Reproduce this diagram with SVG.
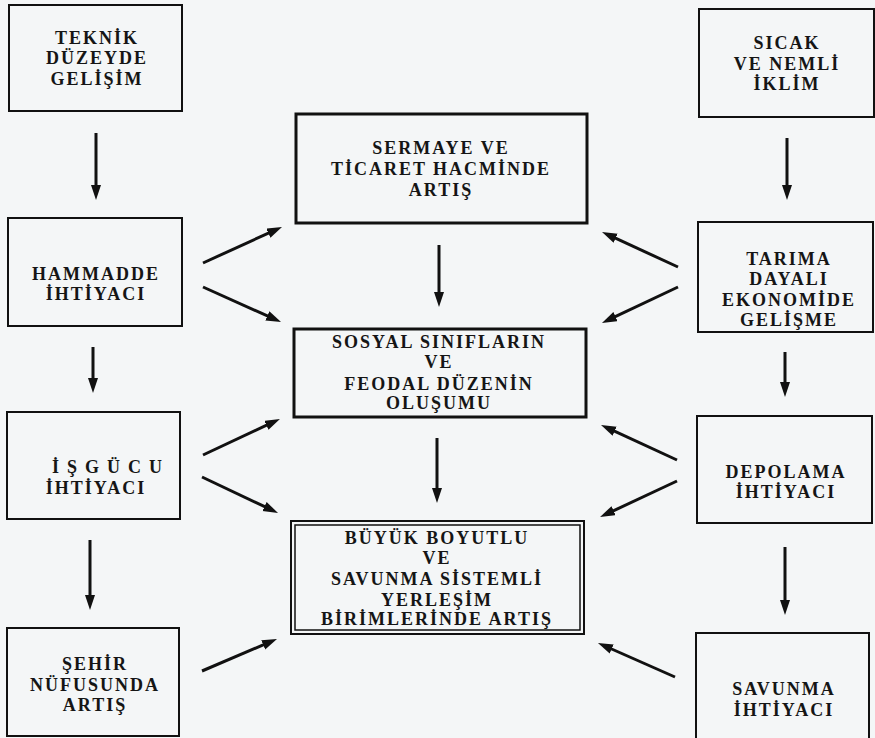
<svg xmlns="http://www.w3.org/2000/svg" width="875" height="738" viewBox="0 0 875 738">
<defs>
<style>
.box{fill:none;stroke:#111;stroke-width:2}
.thick{fill:none;stroke:#111;stroke-width:3}
.t{font-family:"Liberation Serif","Times New Roman",serif;font-weight:bold;font-size:18px;letter-spacing:2px;fill:#151515;text-anchor:middle}
.c{stroke:#111;stroke-width:3;fill:none;marker-end:url(#ah)}
</style>
<marker id="ah" markerUnits="userSpaceOnUse" markerWidth="16" markerHeight="12" refX="5" refY="5" orient="auto">
<path d="M0,0 L15,5 L0,10 z" fill="#111"/>
</marker>
</defs>
<rect width="875" height="738" fill="#f4f6f7"/>

<g id="teknik">
<rect class="box" x="9" y="5" width="173" height="106"/>
<text class="t" x="97" y="44">TEKNİK</text>
<text class="t" x="97" y="64">DÜZEYDE</text>
<text class="t" x="97" y="85">GELİŞİM</text>
</g>
<g id="hammadde">
<rect class="box" x="8" y="218" width="174" height="108"/>
<text class="t" x="96" y="280">HAMMADDE</text>
<text class="t" x="96" y="300">İHTİYACI</text>
</g>
<g id="isgucu">
<rect class="box" x="7" y="412" width="173" height="107"/>
<text class="t" x="111" y="473" style="letter-spacing:8px">İŞGÜCU</text>
<text class="t" x="96" y="494">İHTİYACI</text>
</g>
<g id="sehir">
<rect class="box" x="7" y="628" width="172" height="108"/>
<text class="t" x="95" y="670">ŞEHİR</text>
<text class="t" x="95" y="691">NÜFUSUNDA</text>
<text class="t" x="95" y="711">ARTIŞ</text>
</g>

<g id="sermaye">
<rect class="thick" x="296" y="114" width="291" height="109"/>
<text class="t" x="441" y="154">SERMAYE VE</text>
<text class="t" x="441" y="175">TİCARET HACMİNDE</text>
<text class="t" x="441" y="196">ARTIŞ</text>
</g>
<g id="sosyal">
<rect class="thick" x="294" y="329" width="292" height="88"/>
<text class="t" x="439" y="348">SOSYAL SINIFLARIN</text>
<text class="t" x="439" y="368">VE</text>
<text class="t" x="439" y="390">FEODAL DÜZENİN</text>
<text class="t" x="439" y="409">OLUŞUMU</text>
</g>
<g id="buyuk">
<rect class="box" x="291" y="521" width="293" height="113"/>
<rect fill="none" stroke="#111" stroke-width="1.5" x="295" y="525" width="285" height="105"/>
<text class="t" x="437" y="544">BÜYÜK BOYUTLU</text>
<text class="t" x="437" y="564">VE</text>
<text class="t" x="437" y="585">SAVUNMA SİSTEMLİ</text>
<text class="t" x="437" y="606">YERLEŞİM</text>
<text class="t" x="437" y="625">BİRİMLERİNDE ARTIŞ</text>
</g>

<g id="sicak">
<rect class="box" x="699" y="9" width="175" height="108"/>
<text class="t" x="787" y="49">SICAK</text>
<text class="t" x="787" y="70">VE NEMLİ</text>
<text class="t" x="787" y="90">İKLİM</text>
</g>
<g id="tarima">
<rect class="box" x="698" y="222" width="175" height="110"/>
<text class="t" x="789" y="265">TARIMA</text>
<text class="t" x="789" y="285">DAYALI</text>
<text class="t" x="789" y="306">EKONOMİDE</text>
<text class="t" x="789" y="326">GELİŞME</text>
</g>
<g id="depolama">
<rect class="box" x="697" y="416" width="175" height="107"/>
<text class="t" x="786" y="478">DEPOLAMA</text>
<text class="t" x="786" y="498">İHTİYACI</text>
</g>
<g id="savunma">
<rect class="box" x="696" y="633" width="173" height="110"/>
<text class="t" x="784" y="695">SAVUNMA</text>
<text class="t" x="784" y="716">İHTİYACI</text>
</g>

<g id="connectors">
<path class="c" d="M96,133 L96,190"/>
<path class="c" d="M93,347 L93,383"/>
<path class="c" d="M90,540 L90,600"/>
<path class="c" d="M439,245 L439,297"/>
<path class="c" d="M437,438 L437,493"/>
<path class="c" d="M787,138 L787,190"/>
<path class="c" d="M785,352 L785,387"/>
<path class="c" d="M785,547 L785,605"/>
<path class="c" d="M203,263 L272.9,231.1"/>
<path class="c" d="M203,287 L271.9,317.9"/>
<path class="c" d="M203,455 L270.9,423.2"/>
<path class="c" d="M202,477 L269,508.7"/>
<path class="c" d="M202,671 L267.8,642.9"/>
<path class="c" d="M678,267 L611.1,236.2"/>
<path class="c" d="M678,287 L611,318.7"/>
<path class="c" d="M677,460 L610.1,429.2"/>
<path class="c" d="M677,481 L609.1,512.8"/>
<path class="c" d="M675,677 L607.1,647"/>
</g>
</svg>
